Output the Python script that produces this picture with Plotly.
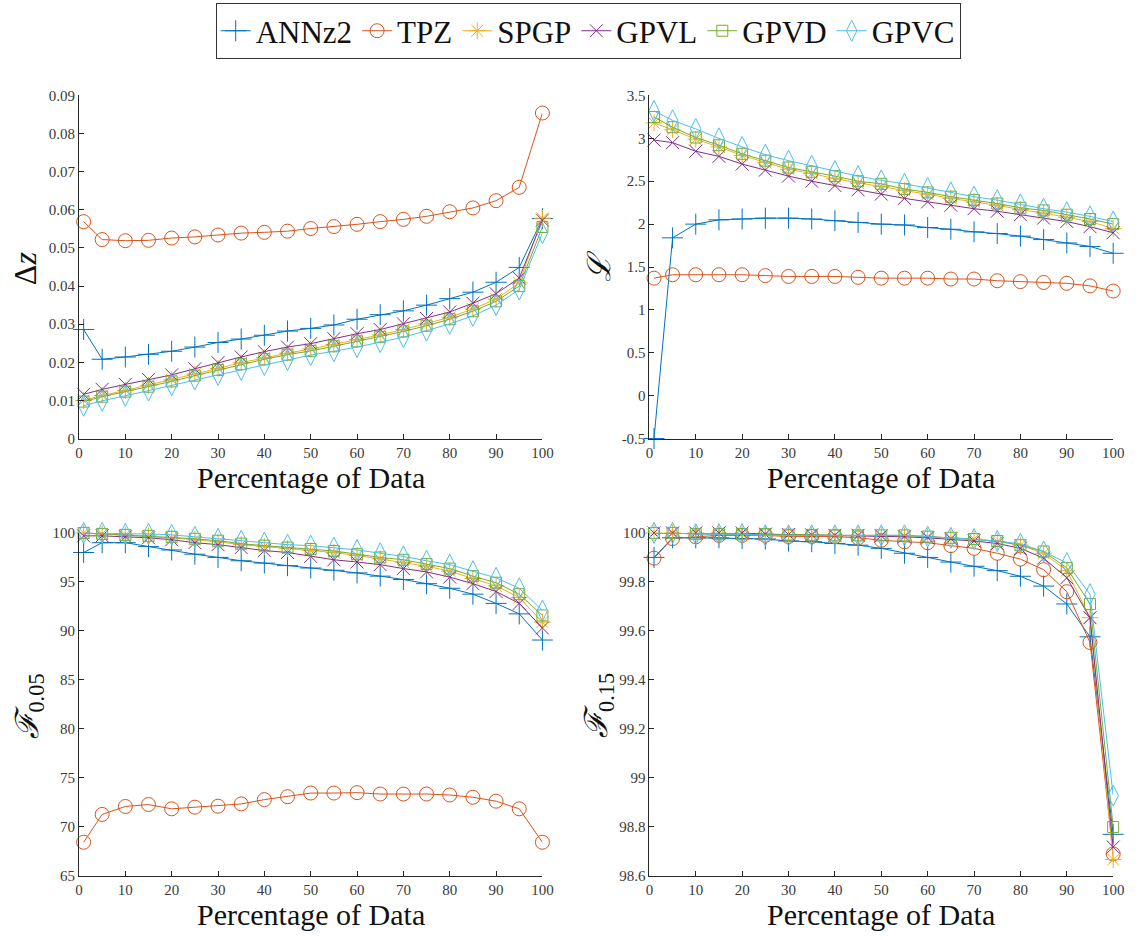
import plotly.graph_objects as go

# ---------------- data ----------------
pct = [1, 5, 10, 15, 20, 25, 30, 35, 40, 45, 50, 55, 60, 65, 70, 75, 80, 85, 90, 95, 100]
methods = ["ANNz2", "TPZ", "SPGP", "GPVL", "GPVD", "GPVC"]

dz_annz2 = [0.0286, 0.0208, 0.0214, 0.0221, 0.0229, 0.0240, 0.0252, 0.0261, 0.0271, 0.0282, 0.0289,
            0.0298, 0.0313, 0.0325, 0.0335, 0.0350, 0.0367, 0.0384, 0.0410, 0.0449, 0.0577]
dz_tpz = [0.0569, 0.0522, 0.0519, 0.0520, 0.0526, 0.0529, 0.0534, 0.0539, 0.0541, 0.0544, 0.0551,
          0.0556, 0.0562, 0.0569, 0.0575, 0.0583, 0.0595, 0.0605, 0.0624, 0.0659, 0.0854]
dz_spgp = [0.0100, 0.0113, 0.0126, 0.0140, 0.0154, 0.0169, 0.0184, 0.0199, 0.0212, 0.0224, 0.0235,
           0.0247, 0.0260, 0.0272, 0.0286, 0.0301, 0.0318, 0.0340, 0.0366, 0.0408, 0.0578]
dz_gpvl = [0.0116, 0.0129, 0.0142, 0.0155, 0.0167, 0.0183, 0.0199, 0.0214, 0.0228, 0.0240, 0.0249,
           0.0262, 0.0275, 0.0286, 0.0301, 0.0315, 0.0332, 0.0355, 0.0380, 0.0421, 0.0573]
dz_gpvd = [0.0097, 0.0110, 0.0123, 0.0136, 0.0150, 0.0165, 0.0180, 0.0195, 0.0208, 0.0220, 0.0230,
           0.0242, 0.0255, 0.0267, 0.0281, 0.0296, 0.0313, 0.0334, 0.0360, 0.0400, 0.0555]
dz_gpvc = [0.0086, 0.0099, 0.0112, 0.0126, 0.0140, 0.0155, 0.0167, 0.0180, 0.0193, 0.0206, 0.0219,
           0.0229, 0.0240, 0.0253, 0.0266, 0.0283, 0.0301, 0.0322, 0.0350, 0.0391, 0.0539]

L_annz2 = [-0.5, 1.84, 2.00, 2.05, 2.06, 2.07, 2.07, 2.06, 2.04, 2.02, 2.00,
           1.99, 1.96, 1.94, 1.91, 1.89, 1.86, 1.82, 1.78, 1.74, 1.66]
L_tpz = [1.37, 1.41, 1.41, 1.41, 1.41, 1.40, 1.39, 1.39, 1.39, 1.38, 1.37,
         1.37, 1.37, 1.36, 1.36, 1.34, 1.33, 1.32, 1.31, 1.28, 1.22]
L_spgp = [3.18, 3.10, 2.99, 2.90, 2.80, 2.72, 2.64, 2.59, 2.53, 2.48, 2.44,
          2.39, 2.35, 2.30, 2.26, 2.22, 2.17, 2.13, 2.08, 2.03, 1.95]
L_gpvl = [2.98, 2.95, 2.85, 2.79, 2.70, 2.63, 2.56, 2.50, 2.45, 2.40, 2.35,
          2.30, 2.26, 2.22, 2.18, 2.15, 2.11, 2.07, 2.03, 1.97, 1.90]
L_gpvd = [3.25, 3.13, 3.01, 2.92, 2.82, 2.74, 2.66, 2.61, 2.56, 2.50, 2.47,
          2.41, 2.37, 2.32, 2.28, 2.24, 2.19, 2.16, 2.11, 2.06, 2.00]
L_gpvc = [3.32, 3.21, 3.11, 3.00, 2.90, 2.81, 2.74, 2.68, 2.62, 2.56, 2.51,
          2.47, 2.42, 2.37, 2.32, 2.28, 2.23, 2.18, 2.14, 2.09, 2.03]

f05_annz2 = [98.0, 99.0, 99.0, 98.6, 98.26, 97.83, 97.5, 97.16, 96.92, 96.66, 96.42,
             96.19, 95.92, 95.59, 95.25, 94.82, 94.35, 93.75, 92.81, 91.74, 89.07]
f05_tpz = [68.44, 71.28, 72.09, 72.29, 71.85, 72.02, 72.12, 72.35, 72.79, 73.09, 73.46,
           73.46, 73.5, 73.36, 73.36, 73.36, 73.26, 73.03, 72.63, 71.85, 68.44]
f05_spgp = [100, 99.9, 99.8, 99.7, 99.5, 99.3, 99.1, 98.8, 98.6, 98.4, 98.2,
            98.0, 97.7, 97.35, 97.0, 96.6, 96.1, 95.35, 94.6, 93.4, 90.9]
f05_gpvl = [99.7, 99.7, 99.6, 99.5, 99.3, 99.0, 98.8, 98.5, 98.2, 98.0, 97.6,
            97.26, 97.03, 96.76, 96.36, 96.02, 95.49, 94.82, 94.02, 92.81, 90.3]
f05_gpvd = [100, 99.9, 99.8, 99.7, 99.6, 99.4, 99.2, 98.9, 98.7, 98.5, 98.36,
            98.16, 97.83, 97.5, 97.26, 96.82, 96.36, 95.59, 94.92, 93.75, 91.58]
f05_gpvc = [100, 100, 99.9, 99.9, 99.8, 99.6, 99.4, 99.2, 99.0, 98.8, 98.7,
            98.5, 98.26, 97.93, 97.6, 97.16, 96.76, 96.09, 95.42, 94.35, 92.08]

f15_annz2 = [99.90, 99.98, 99.98, 99.98, 99.977, 99.975, 99.967, 99.964, 99.957, 99.95, 99.937,
             99.917, 99.90, 99.881, 99.864, 99.846, 99.823, 99.783, 99.71, 99.576, 98.77]
f15_tpz = [99.897, 99.977, 99.984, 99.99, 99.99, 99.99, 99.985, 99.985, 99.985, 99.98, 99.97,
           99.964, 99.96, 99.948, 99.937, 99.917, 99.893, 99.85, 99.76, 99.553, 98.69]
f15_spgp = [100, 100, 100, 100, 99.995, 99.995, 99.993, 99.992, 99.99, 99.99, 99.99,
            99.988, 99.985, 99.98, 99.975, 99.965, 99.95, 99.917, 99.846, 99.654, 98.667]
f15_gpvl = [100, 100, 100, 100, 100, 99.995, 99.993, 99.992, 99.99, 99.99, 99.988,
            99.984, 99.98, 99.975, 99.967, 99.957, 99.937, 99.897, 99.817, 99.654, 98.718]
f15_gpvd = [100, 100, 99.995, 99.995, 99.995, 99.995, 99.993, 99.992, 99.99, 99.99, 99.99,
            99.99, 99.985, 99.98, 99.975, 99.967, 99.95, 99.924, 99.857, 99.71, 98.8]
f15_gpvc = [100, 100, 99.995, 99.995, 99.995, 99.99, 99.99, 99.99, 99.99, 99.99, 99.99,
            99.99, 99.985, 99.98, 99.975, 99.967, 99.955, 99.924, 99.877, 99.75, 98.928]

x_ticks = [0, 10, 20, 30, 40, 50, 60, 70, 80, 90, 100]
dz_ticks = [0, 0.01, 0.02, 0.03, 0.04, 0.05, 0.06, 0.07, 0.08, 0.09]
dz_ticktext = ["0", "0.01", "0.02", "0.03", "0.04", "0.05", "0.06", "0.07", "0.08", "0.09"]
L_ticks = [-0.5, 0, 0.5, 1, 1.5, 2, 2.5, 3, 3.5]
L_ticktext = ["-0.5", "0", "0.5", "1", "1.5", "2", "2.5", "3", "3.5"]
f05_ticks = [65, 70, 75, 80, 85, 90, 95, 100]
f15_ticks = [98.6, 98.8, 99.0, 99.2, 99.4, 99.6, 99.8, 100]
f15_ticktext = ["98.6", "98.8", "99", "99.2", "99.4", "99.6", "99.8", "100"]

# ---------------- style ----------------
colors = ["#0072BD", "#D95319", "#EDB120", "#7E2F8E", "#77AC30", "#4DBEEE"]
symbols = ["cross-thin-open", "circle-open", "asterisk-open", "x-thin-open", "square-open", "diamond-tall-open"]
msizes = [15, 14, 14, 13, 11, 15]
FONT = "Liberation Serif"
AX = "#262626"
W, H = 1138, 940

panels = [
    ([dz_annz2, dz_tpz, dz_spgp, dz_gpvl, dz_gpvd, dz_gpvc], (76, 545.6), (89, 438), [0, 0.09], dz_ticks, dz_ticktext),
    ([L_annz2, L_tpz, L_spgp, L_gpvl, L_gpvd, L_gpvc], (654, 1124), (89, 438), [-0.5, 3.5], L_ticks, L_ticktext),
    ([f05_annz2, f05_tpz, f05_spgp, f05_gpvl, f05_gpvd, f05_gpvc], (76, 545.6), (534, 883), [65, 100], f05_ticks, [str(v) for v in f05_ticks]),
    ([f15_annz2, f15_tpz, f15_spgp, f15_gpvl, f15_gpvd, f15_gpvc], (654, 1124), (534, 883), [98.6, 100], f15_ticks, f15_ticktext),
]

fig = go.Figure()
layout = {}
for i, (series, xpx, ypx, yr, yt, ytt) in enumerate(panels):
    n = "" if i == 0 else str(i + 1)
    xa, ya = "x" + n, "y" + n
    for j, ys in enumerate(series):
        fig.add_trace(go.Scatter(
            x=pct, y=ys, xaxis=xa, yaxis=ya, mode="lines+markers", name=methods[j],
            legendgroup=methods[j], showlegend=(i == 0), cliponaxis=False,
            line=dict(color=colors[j], width=1),
            marker=dict(symbol=symbols[j], size=msizes[j], color=colors[j],
                        line=dict(color=colors[j], width=1)),
        ))
    common = dict(showline=True, linecolor=AX, linewidth=1, ticks="inside", ticklen=5,
                  tickcolor=AX, showgrid=False, zeroline=False, mirror=False,
                  tickfont=dict(family=FONT, size=15, color="#3a3a3a"))
    layout["xaxis" + n] = dict(domain=[xpx[0] / W, xpx[1] / W], range=[0, 100], anchor=ya,
                               tickvals=x_ticks, **common)
    layout["yaxis" + n] = dict(domain=[1 - ypx[1] / H, 1 - ypx[0] / H], range=yr, anchor=xa,
                               tickvals=yt, ticktext=ytt, **common)

fig.update_layout(**layout)

annotations = []
for cx, cy in [((76 + 545.6) / 2, 478), ((654 + 1124) / 2, 478), ((76 + 545.6) / 2, 922), ((654 + 1124) / 2, 922)]:
    annotations.append(dict(text="Percentage of Data", x=cx / W, y=1 - cy / H, xref="paper", yref="paper",
                            xanchor="center", yanchor="middle", showarrow=False,
                            font=dict(family=FONT, size=30, color="#111111")))
for txt, cx, cy in [("Δ<i>z</i>", 22, 265), ("<i>ℒ</i>", 602, 262),
                    ("<i>ℱ</i><sub>0.05</sub>", 26, 710), ("<i>ℱ</i><sub>0.15</sub>", 603, 710)]:
    annotations.append(dict(text=txt, x=cx / W, y=1 - cy / H, xref="paper", yref="paper",
                            xanchor="center", yanchor="middle", showarrow=False, textangle=-90,
                            font=dict(family=FONT, size=32, color="#111111")))

fig.update_layout(
    width=W, height=H, margin=dict(l=0, r=0, t=0, b=0),
    paper_bgcolor="white", plot_bgcolor="white",
    font=dict(family=FONT),
    annotations=annotations,
    legend=dict(orientation="h", x=592 / W, xanchor="center", y=1 + 5 / H, yanchor="top",
                bgcolor="white", bordercolor="#333333", borderwidth=1,
                font=dict(family=FONT, size=31, color="#111111"), itemwidth=30, tracegroupgap=0),
)

fig.write_html("out.html")
